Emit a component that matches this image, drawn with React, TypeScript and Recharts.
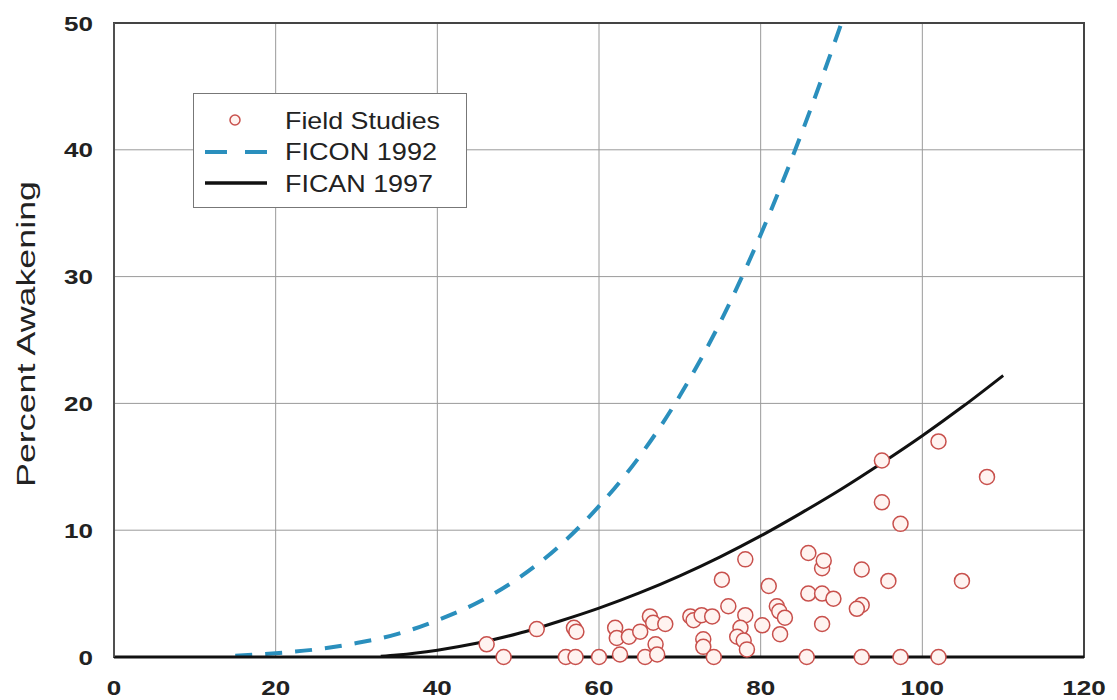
import React from "react"
import {
  ComposedChart,
  Line,
  Scatter,
  XAxis,
  YAxis,
  CartesianGrid,
  ReferenceArea,
  Legend,
} from "recharts"

// field study points (sound exposure level vs % awakened)
const fieldX = [
  46.1, 48.2, 52.3, 55.9, 56.9, 57.2, 57.1, 60.0, 62.0, 62.2, 62.6, 63.7, 65.1, 65.7, 66.3, 66.7,
  68.2, 67.0, 67.2, 71.3, 71.7, 72.7, 74.0, 72.9, 72.9, 74.2, 75.2, 76.0, 78.1, 78.1, 77.5, 77.1,
  77.9, 78.3, 80.2, 81.0, 82.0, 82.3, 83.0, 82.4, 85.7, 85.9, 87.6, 87.8, 85.9, 87.6, 89.0, 87.6,
  92.5, 92.5, 91.9, 92.5, 95.0, 95.0, 97.3, 95.8, 97.3, 102.0, 102.0, 104.9, 108.0,
]
const fieldY = [
  1.0, 0, 2.2, 0, 2.3, 2.0, 0, 0, 2.3, 1.5, 0.2, 1.6, 2.0, 0, 3.2, 2.7,
  2.6, 1.0, 0.2, 3.2, 2.9, 3.3, 3.2, 1.4, 0.8, 0, 6.1, 4.0, 7.7, 3.3, 2.3, 1.6,
  1.3, 0.6, 2.5, 5.6, 4.0, 3.6, 3.1, 1.8, 0, 8.2, 7.0, 7.6, 5.0, 5.0, 4.6, 2.6,
  6.9, 4.1, 3.8, 0, 15.5, 12.2, 10.5, 6.0, 0, 17.0, 0, 6.0, 14.2,
]

// FICON 1992 curve (dashed)
const ficonX = [15, 20, 25, 30, 35, 40, 45, 50, 55, 60, 65, 70, 75, 80, 85, 90]
const ficonY = [0.1, 0.3, 0.6, 1.1, 1.8, 2.9, 4.3, 6.2, 8.7, 11.9, 15.8, 20.6, 26.4, 33.3, 41.2, 50]

// FICAN 1997 curve (solid)
const ficanX = [33, 35, 40, 45, 50, 55, 60, 65, 70, 75, 80, 85, 90, 95, 100, 105, 110]
const ficanY = [0.05, 0.15, 0.54, 1.1, 1.85, 2.8, 3.85, 5.05, 6.4, 7.9, 9.55, 11.35, 13.25, 15.3, 17.45, 19.75, 22.2]

const xTicks = [0, 20, 40, 60, 80, 100, 120]
const yTicks = [0, 10, 20, 30, 40, 50]

const legendNames = ["Field Studies", "FICON 1992", "FICAN 1997"]

const fieldData = fieldX.map((x, i) => ({ x, y: fieldY[i] }))
const ficonData = ficonX.map((x, i) => ({ x, y: ficonY[i] }))
const ficanData = ficanX.map((x, i) => ({ x, y: ficanY[i] }))

const FONT = "'Liberation Sans', Arial, Helvetica, sans-serif"
const DOT_STROKE = "#c8504c"
const DOT_FILL = "#fff3f0"
const BLUE = "#2a8fbd"

// the tick digits in the original are wide and heavy, so stretch them a bit
function XTick(props: any) {
  const s = String(props.payload.value)
  return (
    <text
      x={props.x}
      y={props.y + 38}
      textAnchor="middle"
      fontSize={21}
      fontWeight={700}
      fill="#222"
      fontFamily={FONT}
      textLength={s.length * 14.5}
      lengthAdjust="spacingAndGlyphs"
    >
      {s}
    </text>
  )
}

function YTick(props: any) {
  const s = String(props.payload.value)
  return (
    <text
      x={props.x}
      y={props.y}
      dy="0.36em"
      textAnchor="end"
      fontSize={21}
      fontWeight={700}
      fill="#222"
      fontFamily={FONT}
      textLength={s.length * 14.5}
      lengthAdjust="spacingAndGlyphs"
    >
      {s}
    </text>
  )
}

function YLabel() {
  return (
    <text
      x={26}
      y={334}
      transform="rotate(-90 26 334)"
      textAnchor="middle"
      dominantBaseline="central"
      fontSize={25}
      fill="#222"
      fontFamily={FONT}
      textLength={306}
      lengthAdjust="spacingAndGlyphs"
    >
      Percent Awakening
    </text>
  )
}

function LegendBox() {
  const textLen = [155, 152, 148]
  return (
    <svg width={274} height={115} style={{ display: "block" }}>
      <rect x={0.5} y={0.5} width={273} height={114} fill="#fff" stroke="#777" strokeWidth={1} />
      <circle cx={42} cy={27} r={5} fill={DOT_FILL} stroke={DOT_STROKE} strokeWidth={1.5} />
      <line x1={12} y1={59} x2={74} y2={59} stroke={BLUE} strokeWidth={4} strokeDasharray="22 18" />
      <line x1={12} y1={90} x2={74} y2={90} stroke="#111" strokeWidth={3.5} />
      {legendNames.map((n, i) => (
        <text
          key={n}
          x={92}
          y={35.5 + i * 31.5}
          fontSize={24}
          fill="#222"
          fontFamily={FONT}
          textLength={textLen[i]}
          lengthAdjust="spacingAndGlyphs"
        >
          {n}
        </text>
      ))}
    </svg>
  )
}

export default function App() {
  return (
    <div style={{ position: "absolute", left: 0, top: 0, width: 1117, height: 700, background: "#fff" }}>
      <ComposedChart width={1117} height={700} margin={{ top: 23, right: 33, bottom: 0, left: 0 }}>
        <CartesianGrid stroke="#9a9a9a" strokeWidth={1} />
        <XAxis
          type="number"
          dataKey="x"
          domain={[0, 120]}
          ticks={xTicks}
          height={43}
          tickSize={0}
          tickMargin={0}
          tick={<XTick />}
          axisLine={{ stroke: "#111", strokeWidth: 3 }}
          allowDuplicatedCategory={false}
        />
        <YAxis
          type="number"
          dataKey="y"
          domain={[0, 50]}
          ticks={yTicks}
          width={114}
          tickSize={0}
          tickMargin={21}
          tick={<YTick />}
          axisLine={{ stroke: "#555", strokeWidth: 1.5 }}
          label={<YLabel />}
        />
        <ReferenceArea x1={0} x2={120} y1={0} y2={50} fill="none" stroke="#444" strokeWidth={2} />
        <Legend
          layout="vertical"
          align="center"
          verticalAlign="middle"
          wrapperStyle={{ left: 193, top: 93, width: 274, height: 115 }}
          content={() => <LegendBox />}
        />
        <Line
          data={ficonData}
          dataKey="y"
          type="monotone"
          stroke={BLUE}
          strokeWidth={4}
          strokeDasharray="17 13"
          dot={false}
          activeDot={false}
          isAnimationActive={false}
          name="FICON 1992"
        />
        <Line
          data={ficanData}
          dataKey="y"
          type="monotone"
          stroke="#111"
          strokeWidth={3}
          dot={false}
          activeDot={false}
          isAnimationActive={false}
          name="FICAN 1997"
        />
        <Scatter
          data={fieldData}
          dataKey="y"
          isAnimationActive={false}
          name="Field Studies"
          shape={(p: any) => (
            <circle cx={p.cx} cy={p.cy} r={7.5} fill={DOT_FILL} stroke={DOT_STROKE} strokeWidth={1.5} />
          )}
        />
      </ComposedChart>
    </div>
  )
}
